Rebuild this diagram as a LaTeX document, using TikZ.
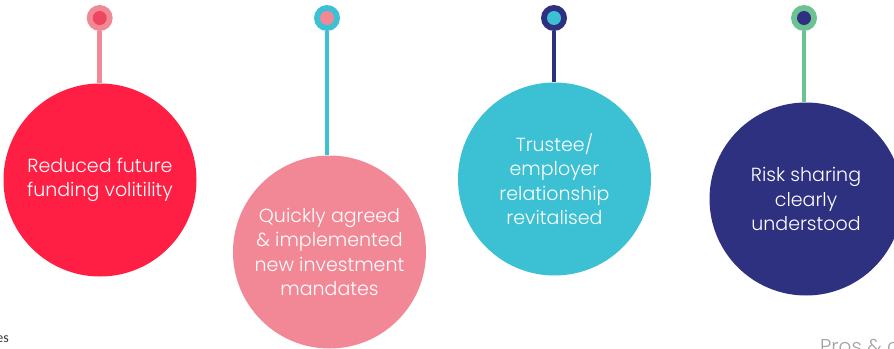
\documentclass[tikz,border=0pt]{standalone}
\usepackage{fontspec}
\newfontfamily\bubblefont{Poppins Light}
\newfontfamily\smallfont{Carlito}
\definecolor{cred}{HTML}{FF1F44}
\definecolor{cpink}{HTML}{F28896}
\definecolor{cdeep}{HTML}{EE4560}
\definecolor{ccyan}{HTML}{3CC0D3}
\definecolor{cnavy}{HTML}{2E3180}
\definecolor{cgreen}{HTML}{6CC391}
\definecolor{cgray}{HTML}{A3A3A3}
\tikzset{
  bigc/.style={circle, minimum size=193pt, inner sep=0pt, text=white, align=center,
    font={\fontsize{19}{24.5}\selectfont\bubblefont}},
  pinout/.style={circle, minimum size=26pt, inner sep=0pt},
  pinin/.style={circle, minimum size=14pt, inner sep=0pt},
  stem/.style={line width=4.6pt},
}
\begin{document}
\begin{tikzpicture}[x=1pt,y=-1pt]
\useasboundingbox[fill=white] (0,0) rectangle (894,348);
% big circles
\node[bigc, fill=cred]   (c1) at (100,180)   {Reduced future\\funding volitility};
\node[bigc, fill=cpink]  (c2) at (329.5,252) {Quickly agreed\\\& implemented\\new investment\\mandates};
\node[bigc, fill=ccyan]  (c3) at (554.5,179) {Trustee/\\employer\\relationship\\revitalised};
\node[bigc, fill=cnavy]  (c4) at (806,199)   {Risk sharing\\clearly\\understood};
% pins
\node[pinout, fill=cpink]  (p1) at (99.7,18) {};
\node[pinin,  fill=cdeep]  (q1) at (p1) {};
\node[pinout, fill=ccyan]  (p2) at (327,18) {};
\node[pinin,  fill=cpink]  (q2) at (p2) {};
\node[pinout, fill=cnavy]  (p3) at (554,18) {};
\node[pinin,  fill=ccyan]  (q3) at (p3) {};
\node[pinout, fill=cgreen] (p4) at (804,18) {};
\node[pinin,  fill=cnavy]  (q4) at (p4) {};
% stems
\draw[stem, cpink]  (p1.south) -- (p1.south |- c1.north);
\draw[stem, ccyan]  (p2.south) -- (p2.south |- c2.north);
\draw[stem, cnavy]  (p3.south) -- (p3.south |- c3.north);
\draw[stem, cgreen] (p4.south) -- (p4.south |- c4.north);
% cut-off page texts
\node[anchor=base east, inner sep=0pt, font=\fontsize{14}{16}\selectfont\smallfont, text=black!80] (s1) at (9,342) {es};
\node[anchor=base west, inner sep=0pt, font=\fontsize{20}{24}\selectfont\bubblefont, text=cgray] (s2) at (820,353) {Pros \& c};
\end{tikzpicture}
\end{document}
